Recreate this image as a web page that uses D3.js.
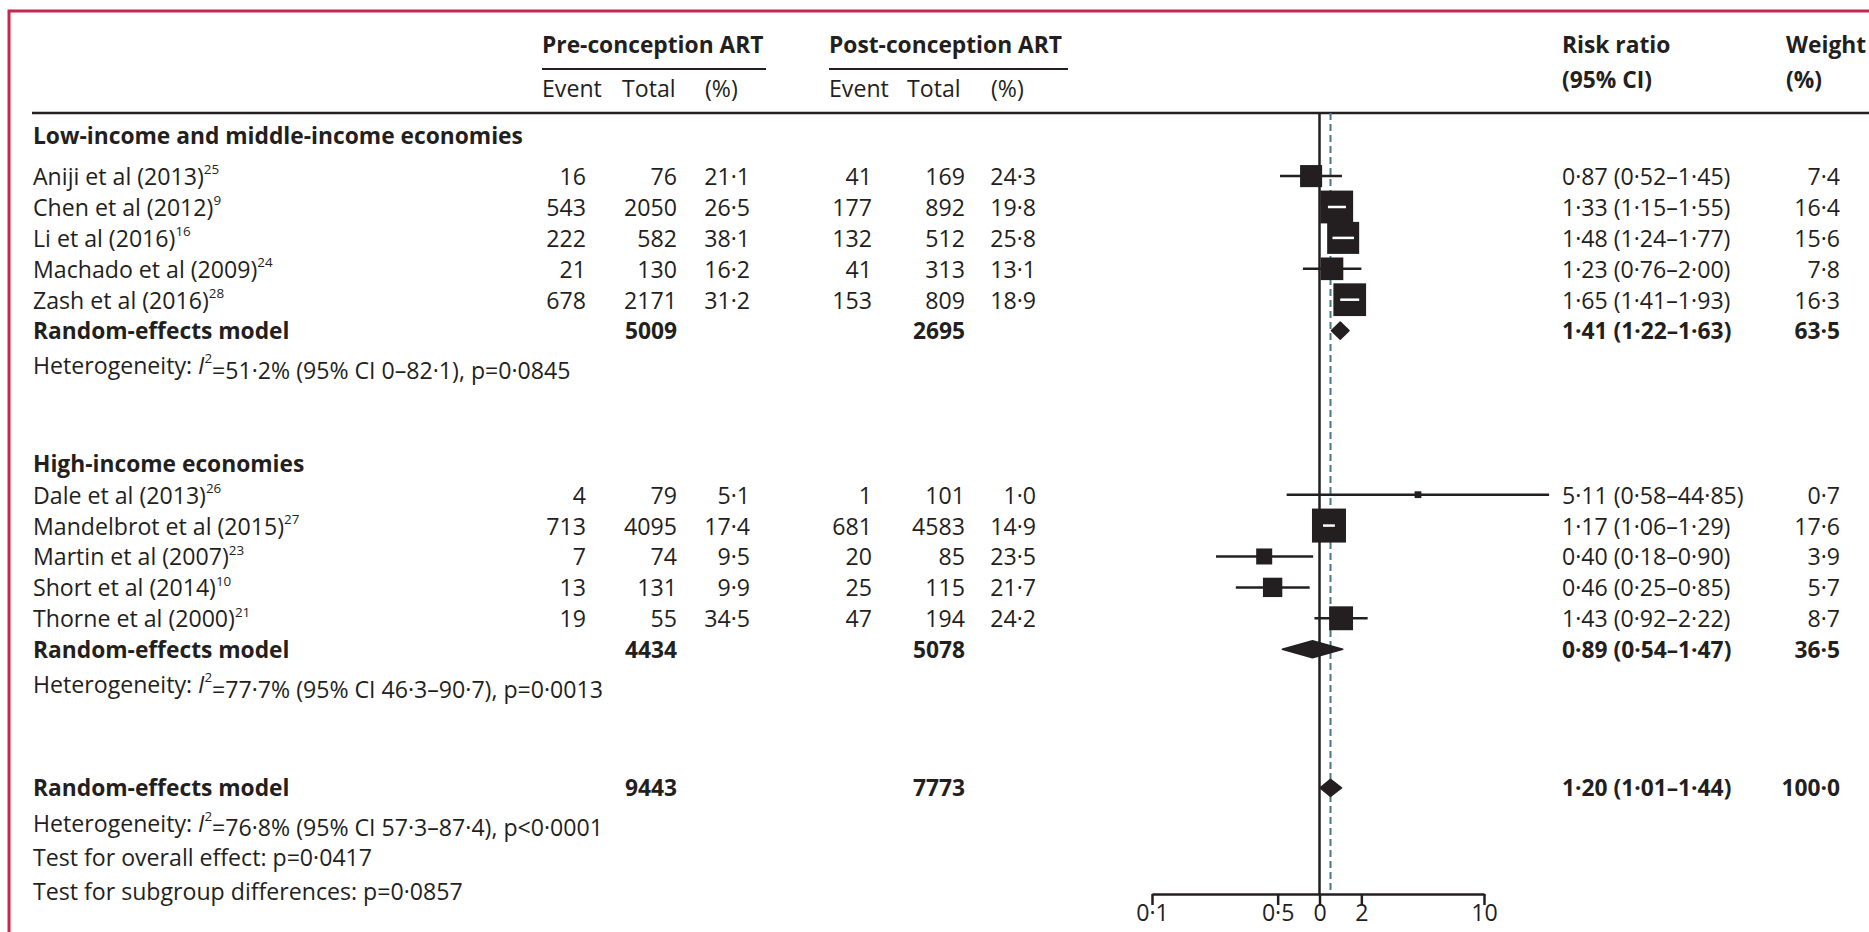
<!DOCTYPE html>
<html>
<head>
<meta charset="utf-8">
<script src="https://cdn.jsdelivr.net/npm/d3@7"></script>
<style>
  body { margin: 0; background: #fff; }
</style>
</head>
<body>
<svg id="chart" width="1869" height="932"></svg>
<script>
// Studies
const groups = ["Low-income and middle-income economies", "High-income economies"];
const studyNames = ["Aniji et al (2013)", "Chen et al (2012)", "Li et al (2016)", "Machado et al (2009)", "Zash et al (2016)",
  "Dale et al (2013)", "Mandelbrot et al (2015)", "Martin et al (2007)", "Short et al (2014)", "Thorne et al (2000)"];
const studyRefs = ["25", "9", "16", "24", "28", "26", "27", "23", "10", "21"];
const studyGroup = [0, 0, 0, 0, 0, 1, 1, 1, 1, 1];
const preEvent = [16, 543, 222, 21, 678, 4, 713, 7, 13, 19];
const preTotal = [76, 2050, 582, 130, 2171, 79, 4095, 74, 131, 55];
const prePct = [21.1, 26.5, 38.1, 16.2, 31.2, 5.1, 17.4, 9.5, 9.9, 34.5];
const postEvent = [41, 177, 132, 41, 153, 1, 681, 20, 25, 47];
const postTotal = [169, 892, 512, 313, 809, 101, 4583, 85, 115, 194];
const postPct = [24.3, 19.8, 25.8, 13.1, 18.9, 1.0, 14.9, 23.5, 21.7, 24.2];
const rr = [0.87, 1.33, 1.48, 1.23, 1.65, 5.11, 1.17, 0.40, 0.46, 1.43];
const rrLow = [0.52, 1.15, 1.24, 0.76, 1.41, 0.58, 1.06, 0.18, 0.25, 0.92];
const rrHigh = [1.45, 1.55, 1.77, 2.00, 1.93, 44.85, 1.29, 0.90, 0.85, 2.22];
const weight = [7.4, 16.4, 15.6, 7.8, 16.3, 0.7, 17.6, 3.9, 5.7, 8.7];

// Pooled estimates: group 1, group 2, overall
const pooledLabel = "Random-effects model";
const pooledPreTotal = [5009, 4434, 9443];
const pooledPostTotal = [2695, 5078, 7773];
const pooledRR = [1.41, 0.89, 1.20];
const pooledLow = [1.22, 0.54, 1.01];
const pooledHigh = [1.63, 1.47, 1.44];
const pooledWeight = [63.5, 36.5, 100.0];
const hetI2 = [51.2, 77.7, 76.8];
const hetLow = [0, 46.3, 57.3];
const hetHigh = [82.1, 90.7, 87.4];
const hetP = ["=0·0845", "=0·0013", "<0·0001"];
const testLabels = ["Test for overall effect: p=0·0417", "Test for subgroup differences: p=0·0857"];

// Axis
const tickValues = [0.1, 0.5, 1, 2, 10];
const tickLabels = ["0·1", "0·5", "0", "2", "10"];

const FONT = "'Open Sans', 'Noto Sans', sans-serif";
const INK = "#231f20";
const dot = (v, d = 1) => (v === 0 ? "0" : v.toFixed(d).replace(".", "·"));
const ci = (m, lo, hi) => `${dot(m, 2)} (${dot(lo, 2)}–${dot(hi, 2)})`;

const svg = d3.select("#chart");

function fitSize(text, fontWeight, target) {
  const t = svg.append("text").attr("font-family", FONT).attr("font-weight", fontWeight)
    .attr("font-size", 20).text(text);
  const w = t.node().getComputedTextLength();
  t.remove();
  return (20 * target) / w;
}
const fsReg = fitSize(testLabels[1], 400, 430);
const fsBold = fitSize(groups[0], 700, 490);

// column anchors
const col = { label: 33, preEvent: 586, preTotal: 677, prePct: 750, postEvent: 872, postTotal: 965, postPct: 1036, rr: 1562, weight: 1840 };

// frame
svg.append("path").attr("d", "M9,932 V11 H1869").attr("fill", "none").attr("stroke", "#c8254f").attr("stroke-width", 3);

// row layout
const step = 30.9;
const rows = [];
let y = 135;
groups.forEach((g, gi) => {
  rows.push({ type: "group", label: g, y });
  y += gi === 0 ? 1.33 * step : step;
  studyNames.forEach((n, i) => {
    if (studyGroup[i] !== gi) return;
    rows.push({ type: "study", i, y });
    y += step;
  });
  rows.push({ type: "pooled", k: gi, y });
  y += 1.12 * step;
  rows.push({ type: "het", k: gi, y });
  y += gi === 0 ? 3.19 * step : 3.37 * step;
});
rows.push({ type: "pooled", k: 2, y });
y += 1.12 * step;
rows.push({ type: "het", k: 2, y });
testLabels.forEach((t, ti) => {
  y += (ti === 0 ? 1.12 : 1.08) * step;
  rows.push({ type: "test", label: t, y });
});

const axisY = 894;
const headY = 113;

// scales: markers on a log scale, axis ticks follow it near 1 but the end ticks sit at the axis ends
const x = d3.scaleLog().domain([0.1, 10]).range([1180.5, 1458.5]);
const xAxis = d3.scaleLog().domain(tickValues)
  .range(tickValues.map((v, i) => (i === 0 ? 1152 : i === tickValues.length - 1 ? 1484 : x(v))));
const side = d3.scaleSqrt().domain([0, 17.6]).range([0, 34]);

function txt(g, xPos, yPos, s, opts = {}) {
  return g.append("text")
    .attr("x", xPos).attr("y", yPos)
    .attr("dominant-baseline", "central")
    .attr("text-anchor", opts.anchor || "start")
    .attr("font-family", FONT)
    .attr("font-weight", opts.bold ? 700 : 400)
    .attr("font-size", opts.bold ? fsBold : fsReg)
    .attr("fill", INK)
    .text(s);
}

// header
const head = svg.append("g");
txt(head, 542, 44, "Pre-conception ART", { bold: true });
txt(head, 829, 44, "Post-conception ART", { bold: true });
head.append("line").attr("x1", 542).attr("x2", 766).attr("y1", 69).attr("y2", 69).attr("stroke", INK).attr("stroke-width", 2);
head.append("line").attr("x1", 829).attr("x2", 1068).attr("y1", 69).attr("y2", 69).attr("stroke", INK).attr("stroke-width", 2);
[[542, "Event"], [622, "Total"], [705, "(%)"], [829, "Event"], [907, "Total"], [991, "(%)"]].forEach(([hx, s]) => txt(head, hx, 88, s));
txt(head, col.rr, 44, "Risk ratio", { bold: true });
txt(head, col.rr, 79, "(95% CI)", { bold: true });
txt(head, 1786, 44, "Weight", { bold: true });
txt(head, 1786, 79, "(%)", { bold: true });
head.append("line").attr("x1", 32).attr("x2", 1869).attr("y1", headY).attr("y2", headY).attr("stroke", INK).attr("stroke-width", 2.5);

// reference lines
const plot = svg.append("g");
plot.append("line").attr("x1", x(1)).attr("x2", x(1)).attr("y1", headY).attr("y2", axisY)
  .attr("stroke", INK).attr("stroke-width", 2.5);
plot.append("line").attr("x1", x(pooledRR[2])).attr("x2", x(pooledRR[2])).attr("y1", headY).attr("y2", axisY)
  .attr("stroke", "#46788a").attr("stroke-width", 2).attr("stroke-dasharray", "7,4");

// rows
const body = svg.append("g");
rows.forEach((r) => {
  if (r.type === "group") {
    txt(body, col.label, r.y, r.label, { bold: true });
  } else if (r.type === "study") {
    const i = r.i;
    const t = txt(body, col.label, r.y, studyNames[i]);
    t.append("tspan").attr("dy", "-0.5em").attr("font-size", fsReg * 0.58).text(studyRefs[i]);
    txt(body, col.preEvent, r.y, preEvent[i], { anchor: "end" });
    txt(body, col.preTotal, r.y, preTotal[i], { anchor: "end" });
    txt(body, col.prePct, r.y, dot(prePct[i]), { anchor: "end" });
    txt(body, col.postEvent, r.y, postEvent[i], { anchor: "end" });
    txt(body, col.postTotal, r.y, postTotal[i], { anchor: "end" });
    txt(body, col.postPct, r.y, dot(postPct[i]), { anchor: "end" });
    txt(body, col.rr, r.y, ci(rr[i], rrLow[i], rrHigh[i]));
    txt(body, col.weight, r.y, dot(weight[i]), { anchor: "end" });

    const s = side(weight[i]);
    const cx = x(rr[i]);
    const inside = x(rrLow[i]) >= cx - s / 2 && x(rrHigh[i]) <= cx + s / 2;
    if (!inside) {
      plot.append("line").attr("x1", x(rrLow[i])).attr("x2", x(rrHigh[i])).attr("y1", r.y).attr("y2", r.y)
        .attr("stroke", INK).attr("stroke-width", 2.5);
    }
    plot.append("rect").attr("x", cx - s / 2).attr("y", r.y - s / 2).attr("width", s).attr("height", s).attr("fill", INK);
    if (inside) {
      plot.append("line").attr("x1", x(rrLow[i])).attr("x2", x(rrHigh[i])).attr("y1", r.y).attr("y2", r.y)
        .attr("stroke", "#fff").attr("stroke-width", 2.5);
    }
  } else if (r.type === "pooled") {
    const k = r.k;
    txt(body, col.label, r.y, pooledLabel, { bold: true });
    txt(body, col.preTotal, r.y, pooledPreTotal[k], { anchor: "end", bold: true });
    txt(body, col.postTotal, r.y, pooledPostTotal[k], { anchor: "end", bold: true });
    txt(body, col.rr, r.y, ci(pooledRR[k], pooledLow[k], pooledHigh[k]), { bold: true });
    txt(body, col.weight, r.y, dot(pooledWeight[k]), { anchor: "end", bold: true });
    const h = 8.5;
    plot.append("path")
      .attr("d", `M${x(pooledLow[k])},${r.y} L${x(pooledRR[k])},${r.y - h} L${x(pooledHigh[k])},${r.y} L${x(pooledRR[k])},${r.y + h} Z`)
      .attr("fill", INK).attr("stroke", INK).attr("stroke-width", 1.5).attr("stroke-linejoin", "round");
  } else if (r.type === "het") {
    const k = r.k;
    const t = txt(body, col.label, r.y, "Heterogeneity: ");
    t.append("tspan").attr("font-style", "italic").text("I");
    t.append("tspan").attr("dy", "-0.5em").attr("font-size", fsReg * 0.58).text("2");
    t.append("tspan").attr("dy", "0.5em").text(`=${dot(hetI2[k])}% (95% CI ${dot(hetLow[k])}–${dot(hetHigh[k])}), p${hetP[k]}`);
  } else if (r.type === "test") {
    txt(body, col.label, r.y, r.label);
  }
});

// axis
const ax = svg.append("g").attr("transform", `translate(0,${axisY})`)
  .call(d3.axisBottom(xAxis).tickValues(tickValues).tickFormat((d, i) => tickLabels[i]).tickSize(11).tickSizeOuter(0));
ax.select(".domain").attr("stroke", INK).attr("stroke-width", 2.5);
ax.selectAll(".tick line").attr("stroke", INK).attr("stroke-width", 2.5);
ax.selectAll(".tick text").attr("font-family", FONT).attr("font-size", fsReg).attr("fill", INK).attr("dy", "0.6em").attr("y", 13);
</script>
</body>
</html>
